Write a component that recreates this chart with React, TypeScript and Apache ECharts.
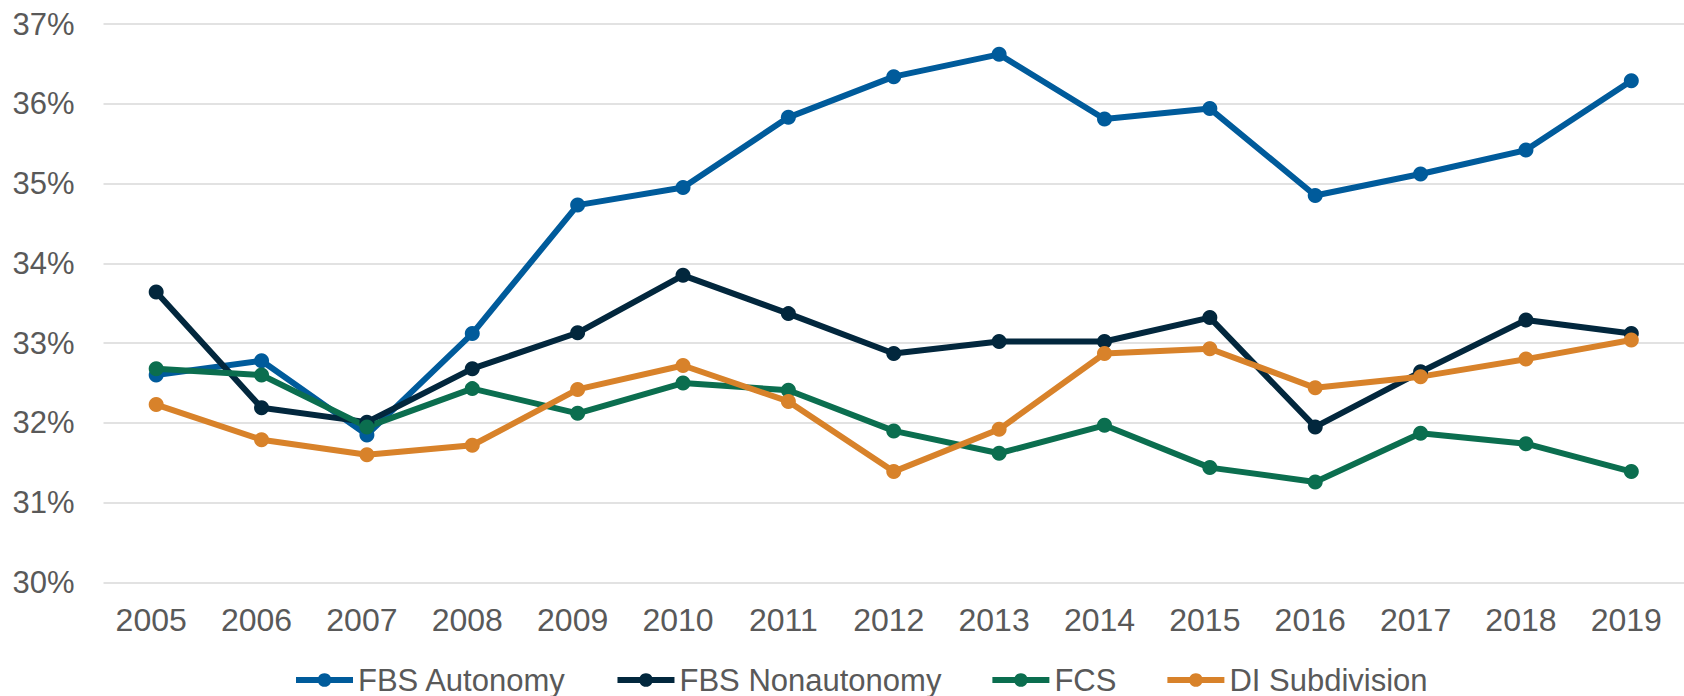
import React, { useEffect, useRef } from "react";
import * as echarts from "echarts";

const years = ["2005", "2006", "2007", "2008", "2009", "2010", "2011", "2012", "2013", "2014", "2015", "2016", "2017", "2018", "2019"];
const fbsAutonomy = [32.6, 32.78, 31.85, 33.12, 34.73, 34.95, 35.83, 36.34, 36.62, 35.81, 35.94, 34.85, 35.12, 35.42, 36.29];
const fbsNonautonomy = [33.64, 32.19, 32.01, 32.68, 33.13, 33.85, 33.37, 32.87, 33.02, 33.02, 33.32, 31.95, 32.64, 33.29, 33.12];
const fcs = [32.68, 32.6, 31.95, 32.43, 32.12, 32.5, 32.41, 31.9, 31.62, 31.97, 31.44, 31.26, 31.87, 31.74, 31.39];
const diSubdivision = [32.23, 31.79, 31.6, 31.72, 32.42, 32.72, 32.27, 31.39, 31.92, 32.87, 32.93, 32.44, 32.58, 32.8, 33.04];

const seriesNames = ["FBS Autonomy", "FBS Nonautonomy", "FCS", "DI Subdivision"];
const seriesColors = ["#005B9B", "#02273D", "#0B6E4F", "#D8822A"];
const seriesData = [fbsAutonomy, fbsNonautonomy, fcs, diSubdivision];

export default function App() {
  const ref = useRef<HTMLDivElement>(null);
  useEffect(() => {
    if (!ref.current) return;
    const chart = echarts.init(ref.current, undefined, { renderer: "svg" });
    const font = "'Liberation Sans', Arial, sans-serif";
    chart.setOption({
      animation: false,
      backgroundColor: "#ffffff",
      grid: { left: 103.5, top: 24, width: 1590, height: 558.5, containLabel: false },
      legend: {
        left: 293,
        top: 664,
        padding: 0,
        itemWidth: 57,
        itemHeight: 17,
        itemGap: 48,
        data: seriesNames,
        lineStyle: { width: 6 },
        textStyle: { fontFamily: font, fontSize: 31, color: "#595959", lineHeight: 32 },
      },
      xAxis: {
        type: "category",
        data: years,
        boundaryGap: true,
        axisLine: { show: false },
        axisTick: { show: false },
        axisLabel: {
          fontFamily: font,
          fontSize: 32,
          color: "#595959",
          margin: 21,
          padding: [0, 10, 0, 0],
        },
      },
      yAxis: {
        type: "value",
        min: 30,
        max: 37,
        interval: 1,
        axisLine: { show: false },
        axisTick: { show: false },
        splitLine: { lineStyle: { color: "#D9D9D9", width: 1.6 } },
        axisLabel: {
          fontFamily: font,
          fontSize: 31,
          color: "#595959",
          margin: 29,
          formatter: (v: number) => `${v}%`,
        },
      },
      series: seriesNames.map((name, i) => ({
        name,
        type: "line",
        data: seriesData[i],
        symbol: "circle",
        symbolSize: 15,
        color: seriesColors[i],
        lineStyle: { width: 6, color: seriesColors[i] },
        itemStyle: { color: seriesColors[i] },
      })),
    });
    return () => chart.dispose();
  }, []);
  return <div ref={ref} style={{ position: "absolute", left: 0, top: 0, width: 1684, height: 696 }} />;
}
